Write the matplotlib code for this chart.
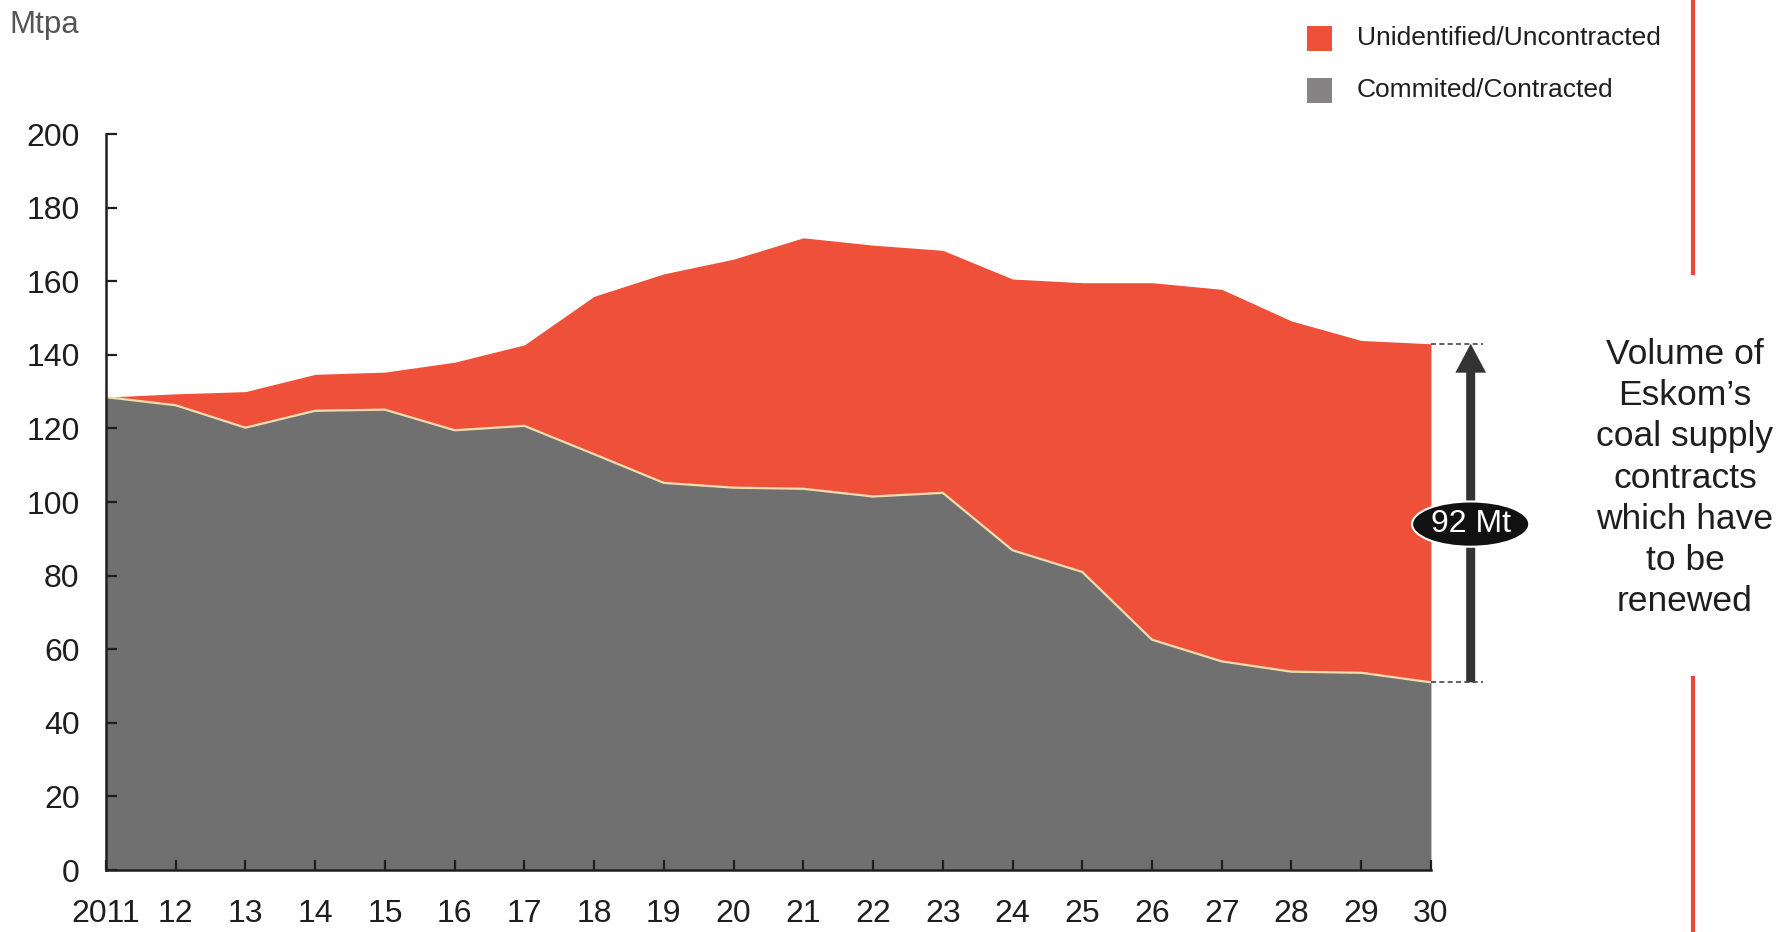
import matplotlib
matplotlib.use("Agg")
import matplotlib.pyplot as plt
from matplotlib.patches import Ellipse, Rectangle, FancyArrowPatch

plt.rcParams['font.family'] = ['Liberation Sans', 'DejaVu Sans']

# Eskom coal supply outlook, Mtpa
years = list(range(2011, 2031))
year_labels = ['2011', '12', '13', '14', '15', '16', '17', '18', '19', '20',
               '21', '22', '23', '24', '25', '26', '27', '28', '29', '30']
committed = [128.5, 126.3, 120.2, 124.8, 125.1, 119.5, 120.7, 113.0, 105.2, 103.9,
             103.6, 101.5, 102.5, 86.9, 81.0, 62.6, 56.7, 53.9, 53.6, 51.0]
total_demand = [128.5, 129.4, 130.0, 134.7, 135.3, 138.0, 142.7, 155.9, 162.0, 166.0,
                171.8, 169.8, 168.4, 160.6, 159.6, 159.6, 157.8, 149.2, 143.9, 143.0]
series_labels = ['Unidentified/Uncontracted', 'Commited/Contracted']
gap_label = '92 Mt'
side_note = "Volume of\nEskom\u2019s\ncoal supply\ncontracts\nwhich have\nto be\nrenewed"

RED = '#ee5039'
GREY = '#717070'
INK = '#1e1e1e'

fig = plt.figure(figsize=(17.78, 9.32), dpi=100)
ax = fig.add_axes([0.0596, 0.0665, 0.7452, 0.7897])

ax.fill_between(years, committed, total_demand, color=RED, linewidth=0)
ax.fill_between(years, 0, committed, color=GREY, linewidth=0)
ax.plot(years, committed, color='#f3dcae', linewidth=1.6, solid_joinstyle='miter')

ax.set_xlim(years[0], years[-1])
ax.set_ylim(0, 200)
ax.set_xticks(years)
ax.set_xticklabels(year_labels)
ax.set_yticks(range(0, 201, 20))

for side in ('top', 'right'):
    ax.spines[side].set_visible(False)
for side in ('left', 'bottom'):
    ax.spines[side].set_color(INK)
    ax.spines[side].set_linewidth(1.8)
    ax.spines[side].set_zorder(5)

ax.tick_params(axis='y', direction='in', length=8, width=1.6, color=INK,
               labelsize=23, pad=19, labelcolor=INK)
ax.tick_params(axis='x', direction='in', length=7, width=1.6, color=INK,
               labelsize=23, pad=21, labelcolor=INK)
ax.set_axisbelow(False)

# Renewal gap at the final year
last = years[-1]
top_v, bot_v = total_demand[-1], committed[-1]
ax.plot([last, last + 0.74], [top_v, top_v], color='#444444', lw=1.2,
        ls=(0, (3, 2)), clip_on=False)
ax.plot([last, last + 0.74], [bot_v, bot_v], color='#444444', lw=1.2,
        ls=(0, (3, 2)), clip_on=False)
arrow = FancyArrowPatch((last + 0.57, bot_v), (last + 0.57, top_v),
                        arrowstyle='simple,head_width=1.7,head_length=1.6,tail_width=0.5',
                        mutation_scale=13, color='#333333', linewidth=0,
                        clip_on=False, shrinkA=0, shrinkB=0)
ax.add_patch(arrow)
ell = Ellipse((last + 0.57, 94), width=1.68, height=12.3, facecolor='#111111',
              edgecolor='white', linewidth=1.5, clip_on=False, zorder=6)
ax.add_patch(ell)
ax.text(last + 0.57, 94, gap_label, color='white', fontsize=23,
        ha='center', va='center', zorder=7, clip_on=False)

# Legend drawn in figure pixels
fw, fh = 1778, 932
fig.patches.append(Rectangle((1307 / fw, 1 - 51 / fh), 25 / fw, 25 / fh,
                             transform=fig.transFigure, facecolor=RED,
                             edgecolor='none'))
fig.patches.append(Rectangle((1307 / fw, 1 - 103 / fh), 25 / fw, 25 / fh,
                             transform=fig.transFigure, facecolor='#858383',
                             edgecolor='none'))
fig.text(1357 / fw, 1 - 38 / fh, series_labels[0], fontsize=19, color=INK,
         va='center', ha='left')
fig.text(1357 / fw, 1 - 90 / fh, series_labels[1], fontsize=19, color=INK,
         va='center', ha='left')

fig.text(9 / fw, 1 - 25 / fh, 'Mtpa', fontsize=22.5, color='#555555',
         va='center', ha='left')

fig.text(1685 / fw, 1 - 478 / fh, side_note, fontsize=25.5, color=INK,
         ha='center', va='center', multialignment='center', linespacing=1.31)

# Red divider on the right
fig.add_artist(plt.Line2D([1693 / fw, 1693 / fw], [1.0, 1 - 273 / fh],
                          transform=fig.transFigure, color='#e8473a', lw=3))
fig.add_artist(plt.Line2D([1693 / fw, 1693 / fw], [1 - 678 / fh, 0.0],
                          transform=fig.transFigure, color='#e8473a', lw=3))

fig.savefig('out.png', dpi=100)
